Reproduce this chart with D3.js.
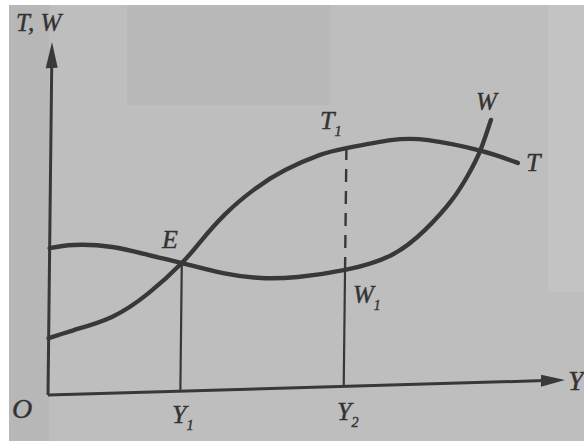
<!DOCTYPE html>
<html><head><meta charset="utf-8">
<script src="https://cdn.jsdelivr.net/npm/d3@7"></script>
<style>html,body{margin:0;padding:0;background:#fff;}svg{display:block;}</style>
</head><body>
<script>
// ---- data (abstract units along the Y axis and the T,W axis) ----
const Y1 = 2.56, Y2 = 5.72;
const wCurveX = [0.0, 0.47, 1.21, 1.92, 2.56, 3.36, 4.10, 4.81, 5.72, 6.61, 7.26, 7.77, 8.08, 8.31, 8.51];
const wCurveY = [4.16, 4.23, 4.14, 3.88, 3.63, 3.31, 3.14, 3.14, 3.30, 3.68, 4.37, 5.19, 5.89, 6.57, 7.43];
const tCurveX = [0.0, 0.49, 1.22, 1.93, 2.56, 2.91, 3.39, 3.96, 4.54, 5.21, 5.72, 6.58, 7.30, 8.31, 9.04];
const tCurveY = [1.61, 1.82, 2.16, 2.81, 3.63, 4.21, 4.98, 5.67, 6.18, 6.58, 6.75, 6.94, 6.91, 6.57, 6.19];
const pointE = {x: 2.56, y: 3.63};
const pointT1 = {x: 5.72, y: 6.75};
const pointW1 = {x: 5.72, y: 3.30};

const W = 584, H = 441;
const svg = d3.select("body").append("svg").attr("width", W).attr("height", H);

// photographed page background
svg.append("rect").attr("width", W).attr("height", H).attr("fill", "#ffffff");
svg.append("rect").attr("x", 9).attr("y", 5).attr("width", W - 9).attr("height", H - 5).attr("fill", "#bebebe");
svg.append("rect").attr("x", 9).attr("y", 5).attr("width", 40).attr("height", H - 5).attr("fill", "#b7b7b7");
svg.append("rect").attr("x", 127).attr("y", 5).attr("width", 203).attr("height", 100).attr("fill", "#b9b9b9");
svg.append("rect").attr("x", 548).attr("y", 5).attr("width", 36).attr("height", 287).attr("fill", "#c3c3c3");

const ink = "#383838";
const x = d3.scaleLinear().domain([0, 10]).range([0, 517]);
const y = d3.scaleLinear().domain([0, 10]).range([0, -353]);

// slightly skewed frame, as in the photographed figure
const g = svg.append("g").attr("transform", "matrix(1,-0.029,-0.0113,1,48,395)");

// axes
g.append("line").attr("x1", x(0)).attr("y1", y(0)).attr("x2", x(9.6)).attr("y2", y(0))
  .attr("stroke", ink).attr("stroke-width", 3);
g.append("line").attr("x1", x(0)).attr("y1", y(0)).attr("x2", x(0)).attr("y2", y(9.4))
  .attr("stroke", ink).attr("stroke-width", 3);
// arrowheads
g.append("path").attr("d", `M${x(10)},${y(0)} L${x(10) - 24},${y(0) - 6} L${x(10) - 24},${y(0) + 6} Z`).attr("fill", ink);
g.append("path").attr("d", `M${x(0)},${y(10)} L${x(0) - 6},${y(10) + 26} L${x(0) + 6},${y(10) + 26} Z`).attr("fill", ink);

// vertical guides
g.append("line").attr("x1", x(Y1)).attr("y1", y(0)).attr("x2", x(pointE.x)).attr("y2", y(pointE.y))
  .attr("stroke", ink).attr("stroke-width", 2.2);
g.append("line").attr("x1", x(Y2)).attr("y1", y(0)).attr("x2", x(pointW1.x)).attr("y2", y(pointW1.y))
  .attr("stroke", ink).attr("stroke-width", 2.2);
g.append("line").attr("x1", x(pointW1.x)).attr("y1", y(pointW1.y)).attr("x2", x(pointT1.x)).attr("y2", y(pointT1.y))
  .attr("stroke", ink).attr("stroke-width", 2.4).attr("stroke-dasharray", "13,9");

// curves
const line = d3.line().x(d => x(d[0])).y(d => y(d[1])).curve(d3.curveNatural);
g.append("path").attr("d", line(wCurveX.map((v, i) => [v, wCurveY[i]])))
  .attr("fill", "none").attr("stroke", ink).attr("stroke-width", 4.4).attr("stroke-linecap", "round");
g.append("path").attr("d", line(tCurveX.map((v, i) => [v, tCurveY[i]])))
  .attr("fill", "none").attr("stroke", ink).attr("stroke-width", 4.4).attr("stroke-linecap", "round");

// labels
const font = "'Liberation Serif', 'DejaVu Serif', serif";
function label(px, py, main, sub, size) {
  const t = svg.append("text").attr("x", px).attr("y", py)
    .attr("font-family", font).attr("font-style", "italic").attr("font-size", size || 26)
    .attr("fill", "#333333").attr("stroke", "#333333").attr("stroke-width", 0.4).text(main);
  if (sub) t.append("tspan").attr("font-size", (size || 26) * 0.55).attr("dy", 7).text(sub);
  return t;
}
label(16, 31, "T, W", null, 25);
label(12, 418, "O", null, 28);
label(172, 423, "Y", "1", 26);
label(337, 420, "Y", "2", 26);
label(568, 390, "Y", null, 28);
label(162, 248, "E", null, 26);
label(320, 129, "T", "1", 26);
label(476, 110, "W", null, 25);
label(526, 171, "T", null, 26);
label(353, 303, "W", "1", 25);
</script>
</body></html>
